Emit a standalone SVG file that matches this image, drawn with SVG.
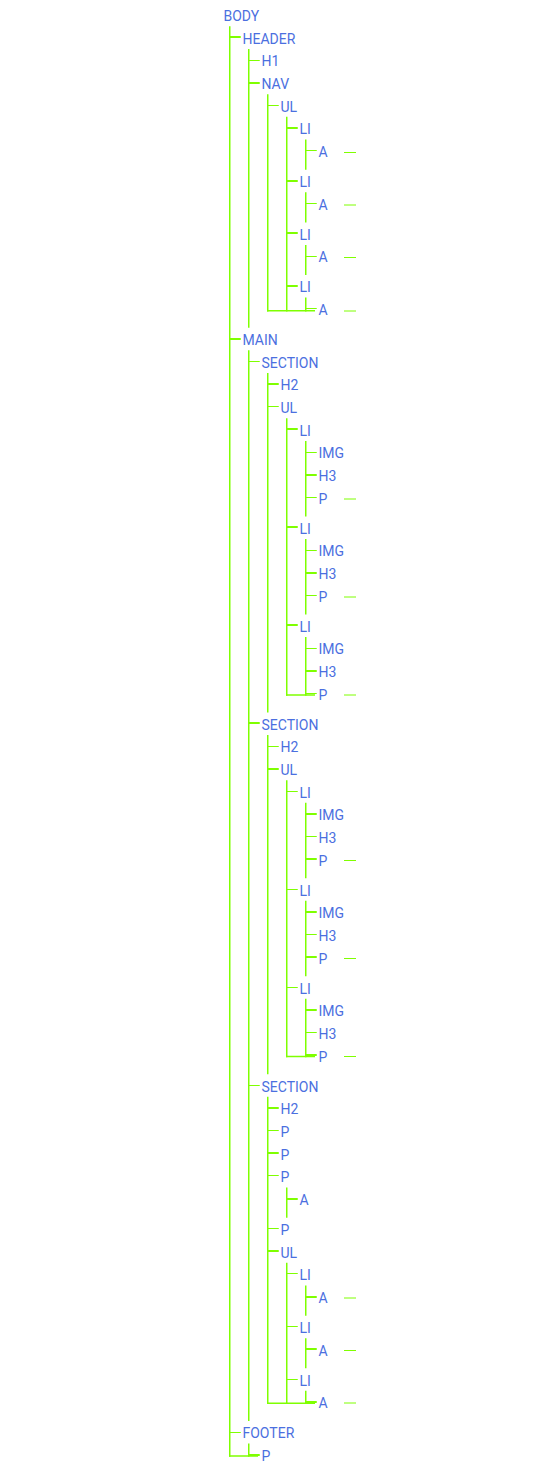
<svg xmlns="http://www.w3.org/2000/svg" width="546" height="1474" viewBox="0 0 546 1474">
<style>
text{font-family:Roboto,"Liberation Sans",sans-serif;font-size:14px;fill:#4b6fe0}
.c line{stroke:#7fff00;fill:none}
.t{stroke-width:2}
.n{stroke-width:1}
.v{stroke-width:1.5}
.b{stroke-width:1.5}
.d{stroke-width:1}
</style>
<rect width="546" height="1474" fill="#ffffff"/>
<g id="connectors" class="c">
<!-- verticals -->
<line class="v" x1="229.75" y1="26.25" x2="229.75" y2="1456.75"/>
<line class="v" x1="248.75" y1="48.9" x2="248.75" y2="327.8"/>
<line class="v" x1="267.75" y1="94.2" x2="267.75" y2="311.5"/>
<line class="v" x1="286.75" y1="116.85" x2="286.75" y2="311.5"/>
<line class="v" x1="305.75" y1="139.5" x2="305.75" y2="169.7"/>
<line class="v" x1="305.75" y1="192.2" x2="305.75" y2="222.4"/>
<line class="v" x1="305.75" y1="244.9" x2="305.75" y2="275.1"/>
<line class="v" x1="305.75" y1="297.6" x2="305.75" y2="311.5"/>
<line class="v" x1="248.75" y1="350.3" x2="248.75" y2="1421.05"/>
<line class="v" x1="267.75" y1="372.95" x2="267.75" y2="712.4"/>
<line class="v" x1="286.75" y1="418.25" x2="286.75" y2="695.75"/>
<line class="v" x1="305.75" y1="440.9" x2="305.75" y2="516.4"/>
<line class="v" x1="305.75" y1="538.9" x2="305.75" y2="614.4"/>
<line class="v" x1="305.75" y1="636.9" x2="305.75" y2="695.75"/>
<line class="v" x1="267.75" y1="734.9" x2="267.75" y2="1074.35"/>
<line class="v" x1="286.75" y1="780.2" x2="286.75" y2="1057.25"/>
<line class="v" x1="305.75" y1="802.85" x2="305.75" y2="878.35"/>
<line class="v" x1="305.75" y1="900.85" x2="305.75" y2="976.35"/>
<line class="v" x1="305.75" y1="998.85" x2="305.75" y2="1057.25"/>
<line class="v" x1="267.75" y1="1096.85" x2="267.75" y2="1404"/>
<line class="v" x1="286.75" y1="1187.45" x2="286.75" y2="1217.65"/>
<line class="v" x1="286.75" y1="1262.8" x2="286.75" y2="1404"/>
<line class="v" x1="305.75" y1="1285.45" x2="305.75" y2="1315.65"/>
<line class="v" x1="305.75" y1="1338.15" x2="305.75" y2="1368.35"/>
<line class="v" x1="305.75" y1="1390.85" x2="305.75" y2="1404"/>
<line class="v" x1="248.75" y1="1443.55" x2="248.75" y2="1456.75"/>
<!-- stubs -->
<line class="t" x1="229" y1="37" x2="240.75" y2="37"/>
<line class="n" x1="248" y1="60.5" x2="259.75" y2="60.5"/>
<line class="t" x1="248" y1="83" x2="259.75" y2="83"/>
<line class="n" x1="267" y1="105.5" x2="278.75" y2="105.5"/>
<line class="t" x1="286" y1="128" x2="297.75" y2="128"/>
<line class="n" x1="305" y1="150.5" x2="316.75" y2="150.5"/>
<line class="t" x1="286" y1="181" x2="297.75" y2="181"/>
<line class="n" x1="305" y1="203.5" x2="316.75" y2="203.5"/>
<line class="t" x1="286" y1="233" x2="297.75" y2="233"/>
<line class="n" x1="305" y1="256.5" x2="316.75" y2="256.5"/>
<line class="t" x1="286" y1="286" x2="297.75" y2="286"/>
<line class="n" x1="305" y1="308.5" x2="316.75" y2="308.5"/>
<line class="t" x1="229" y1="339" x2="240.75" y2="339"/>
<line class="n" x1="248" y1="361.5" x2="259.75" y2="361.5"/>
<line class="t" x1="267" y1="384" x2="278.75" y2="384"/>
<line class="n" x1="267" y1="406.5" x2="278.75" y2="406.5"/>
<line class="t" x1="286" y1="429" x2="297.75" y2="429"/>
<line class="n" x1="305" y1="452.5" x2="316.75" y2="452.5"/>
<line class="t" x1="305" y1="475" x2="316.75" y2="475"/>
<line class="n" x1="305" y1="497.5" x2="316.75" y2="497.5"/>
<line class="t" x1="286" y1="527" x2="297.75" y2="527"/>
<line class="n" x1="305" y1="550.5" x2="316.75" y2="550.5"/>
<line class="t" x1="305" y1="573" x2="316.75" y2="573"/>
<line class="n" x1="305" y1="595.5" x2="316.75" y2="595.5"/>
<line class="t" x1="286" y1="625" x2="297.75" y2="625"/>
<line class="n" x1="305" y1="648.5" x2="316.75" y2="648.5"/>
<line class="t" x1="305" y1="671" x2="316.75" y2="671"/>
<line class="n" x1="305" y1="693.5" x2="316.75" y2="693.5"/>
<line class="t" x1="248" y1="723" x2="259.75" y2="723"/>
<line class="n" x1="267" y1="746.5" x2="278.75" y2="746.5"/>
<line class="t" x1="267" y1="769" x2="278.75" y2="769"/>
<line class="n" x1="286" y1="791.5" x2="297.75" y2="791.5"/>
<line class="t" x1="305" y1="814" x2="316.75" y2="814"/>
<line class="n" x1="305" y1="836.5" x2="316.75" y2="836.5"/>
<line class="t" x1="305" y1="859" x2="316.75" y2="859"/>
<line class="n" x1="286" y1="889.5" x2="297.75" y2="889.5"/>
<line class="t" x1="305" y1="912" x2="316.75" y2="912"/>
<line class="n" x1="305" y1="934.5" x2="316.75" y2="934.5"/>
<line class="t" x1="305" y1="957" x2="316.75" y2="957"/>
<line class="n" x1="286" y1="987.5" x2="297.75" y2="987.5"/>
<line class="t" x1="305" y1="1010" x2="316.75" y2="1010"/>
<line class="n" x1="305" y1="1032.5" x2="316.75" y2="1032.5"/>
<line class="t" x1="305" y1="1055" x2="316.75" y2="1055"/>
<line class="n" x1="248" y1="1085.5" x2="259.75" y2="1085.5"/>
<line class="t" x1="267" y1="1108" x2="278.75" y2="1108"/>
<line class="n" x1="267" y1="1130.5" x2="278.75" y2="1130.5"/>
<line class="t" x1="267" y1="1153" x2="278.75" y2="1153"/>
<line class="n" x1="267" y1="1175.5" x2="278.75" y2="1175.5"/>
<line class="t" x1="286" y1="1199" x2="297.75" y2="1199"/>
<line class="n" x1="267" y1="1228.5" x2="278.75" y2="1228.5"/>
<line class="t" x1="267" y1="1251" x2="278.75" y2="1251"/>
<line class="n" x1="286" y1="1273.5" x2="297.75" y2="1273.5"/>
<line class="t" x1="305" y1="1297" x2="316.75" y2="1297"/>
<line class="n" x1="286" y1="1326.5" x2="297.75" y2="1326.5"/>
<line class="t" x1="305" y1="1349" x2="316.75" y2="1349"/>
<line class="n" x1="286" y1="1379.5" x2="297.75" y2="1379.5"/>
<line class="t" x1="305" y1="1402" x2="316.75" y2="1402"/>
<line class="n" x1="229" y1="1432.5" x2="240.75" y2="1432.5"/>
<line class="t" x1="248" y1="1455" x2="259.75" y2="1455"/>
<!-- closing lines -->
<line class="b" x1="267" y1="310.75" x2="315" y2="310.75"/>
<line class="b" x1="286" y1="695" x2="315" y2="695"/>
<line class="b" x1="286" y1="1056.5" x2="315" y2="1056.5"/>
<line class="b" x1="267" y1="1403.25" x2="315" y2="1403.25"/>
<line class="b" x1="229" y1="1456" x2="258" y2="1456"/>
<!-- dashes -->
<line class="d" x1="344" y1="152.5" x2="356" y2="152.5"/>
<line class="d" x1="344" y1="205" x2="356" y2="205"/>
<line class="d" x1="344" y1="257.5" x2="356" y2="257.5"/>
<line class="d" x1="344" y1="311" x2="356" y2="311"/>
<line class="d" x1="344" y1="499" x2="356" y2="499"/>
<line class="d" x1="344" y1="597" x2="356" y2="597"/>
<line class="d" x1="344" y1="695" x2="356" y2="695"/>
<line class="d" x1="344" y1="860.5" x2="356" y2="860.5"/>
<line class="d" x1="344" y1="958.5" x2="356" y2="958.5"/>
<line class="d" x1="344" y1="1056.5" x2="356" y2="1056.5"/>
<line class="d" x1="344" y1="1298" x2="356" y2="1298"/>
<line class="d" x1="344" y1="1350.5" x2="356" y2="1350.5"/>
<line class="d" x1="344" y1="1403" x2="356" y2="1403"/>
</g>
<g id="n0"><text x="223.5" y="21">BODY</text></g>
<g id="n1"><text x="242.5" y="43.7">HEADER</text></g>
<g id="n2"><text x="261.5" y="66.35">H1</text></g>
<g id="n3"><text x="261.5" y="89">NAV</text></g>
<g id="n4"><text x="280.5" y="111.65">UL</text></g>
<g id="n5"><text x="299.5" y="134.3">LI</text></g>
<g id="n6"><text x="318.5" y="156.95">A</text></g>
<g id="n7"><text x="299.5" y="187">LI</text></g>
<g id="n8"><text x="318.5" y="209.65">A</text></g>
<g id="n9"><text x="299.5" y="239.7">LI</text></g>
<g id="n10"><text x="318.5" y="262.35">A</text></g>
<g id="n11"><text x="299.5" y="292.4">LI</text></g>
<g id="n12"><text x="318.5" y="315.05">A</text></g>
<g id="n13"><text x="242.5" y="345.1">MAIN</text></g>
<g id="n14"><text x="261.5" y="367.75">SECTION</text></g>
<g id="n15"><text x="280.5" y="390.4">H2</text></g>
<g id="n16"><text x="280.5" y="413.05">UL</text></g>
<g id="n17"><text x="299.5" y="435.7">LI</text></g>
<g id="n18"><text x="318.5" y="458.35">IMG</text></g>
<g id="n19"><text x="318.5" y="481">H3</text></g>
<g id="n20"><text x="318.5" y="503.65">P</text></g>
<g id="n21"><text x="299.5" y="533.7">LI</text></g>
<g id="n22"><text x="318.5" y="556.35">IMG</text></g>
<g id="n23"><text x="318.5" y="579">H3</text></g>
<g id="n24"><text x="318.5" y="601.65">P</text></g>
<g id="n25"><text x="299.5" y="631.7">LI</text></g>
<g id="n26"><text x="318.5" y="654.35">IMG</text></g>
<g id="n27"><text x="318.5" y="677">H3</text></g>
<g id="n28"><text x="318.5" y="699.65">P</text></g>
<g id="n29"><text x="261.5" y="729.7">SECTION</text></g>
<g id="n30"><text x="280.5" y="752.35">H2</text></g>
<g id="n31"><text x="280.5" y="775">UL</text></g>
<g id="n32"><text x="299.5" y="797.65">LI</text></g>
<g id="n33"><text x="318.5" y="820.3">IMG</text></g>
<g id="n34"><text x="318.5" y="842.95">H3</text></g>
<g id="n35"><text x="318.5" y="865.6">P</text></g>
<g id="n36"><text x="299.5" y="895.65">LI</text></g>
<g id="n37"><text x="318.5" y="918.3">IMG</text></g>
<g id="n38"><text x="318.5" y="940.95">H3</text></g>
<g id="n39"><text x="318.5" y="963.6">P</text></g>
<g id="n40"><text x="299.5" y="993.65">LI</text></g>
<g id="n41"><text x="318.5" y="1016.3">IMG</text></g>
<g id="n42"><text x="318.5" y="1038.95">H3</text></g>
<g id="n43"><text x="318.5" y="1061.6">P</text></g>
<g id="n44"><text x="261.5" y="1091.65">SECTION</text></g>
<g id="n45"><text x="280.5" y="1114.3">H2</text></g>
<g id="n46"><text x="280.5" y="1136.95">P</text></g>
<g id="n47"><text x="280.5" y="1159.6">P</text></g>
<g id="n48"><text x="280.5" y="1182.25">P</text></g>
<g id="n49"><text x="299.5" y="1204.9">A</text></g>
<g id="n50"><text x="280.5" y="1234.95">P</text></g>
<g id="n51"><text x="280.5" y="1257.6">UL</text></g>
<g id="n52"><text x="299.5" y="1280.25">LI</text></g>
<g id="n53"><text x="318.5" y="1302.9">A</text></g>
<g id="n54"><text x="299.5" y="1332.95">LI</text></g>
<g id="n55"><text x="318.5" y="1355.6">A</text></g>
<g id="n56"><text x="299.5" y="1385.65">LI</text></g>
<g id="n57"><text x="318.5" y="1408.3">A</text></g>
<g id="n58"><text x="242.5" y="1438.35">FOOTER</text></g>
<g id="n59"><text x="261.5" y="1461">P</text></g>
</svg>
